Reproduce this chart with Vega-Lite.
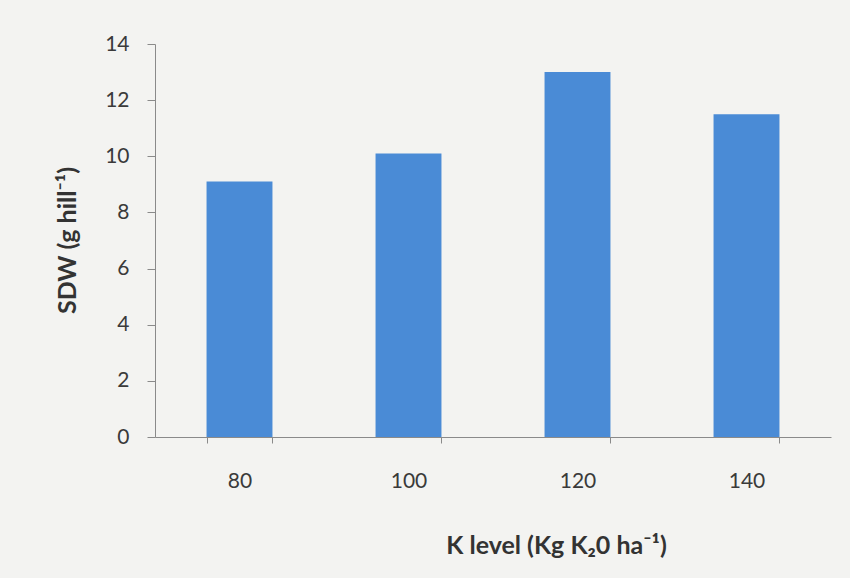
{
  "$schema": "https://vega.github.io/schema/vega-lite/v6.json",
  "width": 676,
  "height": 393,
  "autosize": {"type": "none"},
  "padding": {"left": 155, "top": 44, "right": 19, "bottom": 141},
  "background": "#f3f3f1",
  "config": {
    "view": {"stroke": null},
    "font": "Lato",
    "axis": {"grid": false, "domainColor": "#8a8a8a", "tickColor": "#8a8a8a", "labelColor": "#3a3a3a", "titleColor": "#333333", "labelFont": "Lato", "titleFont": "Lato", "labelFontSize": 21, "titleFontSize": 25, "titleFontWeight": "bold"}
  },
  "data": {
    "values": [
      {"k": "80", "sdw": 9.1},
      {"k": "100", "sdw": 10.1},
      {"k": "120", "sdw": 13.0},
      {"k": "140", "sdw": 11.5}
    ]
  },
  "mark": {"type": "bar", "color": "#4a8bd6"},
  "encoding": {
    "x": {
      "field": "k", "type": "ordinal", "sort": null,
      "scale": {"paddingInner": 0.61, "paddingOuter": 0.305},
      "axis": {
        "title": "K level (Kg K₂0 ha⁻¹)",
        "labelAngle": 0, "tickBand": "extent", "tickSize": 6, "labelPadding": 27,
        "titleX": 401, "titleY": 116, "titleBaseline": "alphabetic", "titleAnchor": "middle", "titleAlign": "center"
      }
    },
    "y": {
      "field": "sdw", "type": "quantitative",
      "scale": {"domain": [0, 14]},
      "axis": {
        "title": "SDW (g hill⁻¹)",
        "values": [0, 2, 4, 6, 8, 10, 12, 14], "tickSize": 8, "labelPadding": 18,
        "titleX": -88, "titleY": 196, "titleBaseline": "middle", "titleAngle": -90, "titleAlign": "center"
      }
    }
  }
}
